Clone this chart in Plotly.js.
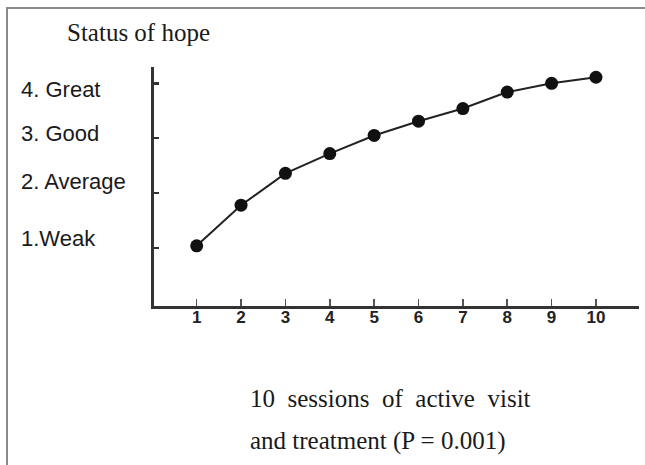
<!DOCTYPE html>
<html>
<head>
<meta charset="utf-8">
<script src="https://cdn.plot.ly/plotly-3.0.1.min.js"></script>
<style>
  html, body { margin: 0; padding: 0; background: #fff; }
  #chart { width: 645px; height: 465px; }
</style>
</head>
<body>
<div id="chart"></div>
<script>
// ---- data ----
const sessions = [1, 2, 3, 4, 5, 6, 7, 8, 9, 10];
const hopeScore = [1.04, 1.78, 2.36, 2.72, 3.05, 3.31, 3.54, 3.84, 4.00, 4.11];
const levelValues = [1, 2, 3, 4];
const levelLabels = ['1.Weak', '2. Average', '3. Good', '4. Great'];
const yTitle = 'Status of hope';
const xTitleLines = ['10\u00a0 sessions\u00a0 of\u00a0 active\u00a0 visit', 'and treatment (P = 0.001)'];

// ---- layout helpers (pixel placement of the free-floating labels) ----
const levelShift = [9.5, 12, 5, -6];   // px shifts of level labels relative to their ticks

const serif = '"Liberation Serif", "Times New Roman", serif';
const sans = '"Liberation Sans", Arial, sans-serif';

const annotations = [];
levelValues.forEach((v, i) => {
  annotations.push({
    text: levelLabels[i], xref: 'paper', yref: 'y', x: (19 - 154) / 485, y: v,
    xanchor: 'left', yanchor: 'middle', yshift: levelShift[i], showarrow: false,
    font: { family: sans, size: 22, color: '#1a1a1a' }
  });
});
annotations.push({
  text: yTitle, xref: 'paper', yref: 'paper', x: (65 - 154) / 485, y: (306 - 33) / 239,
  xanchor: 'left', yanchor: 'middle', showarrow: false,
  font: { family: serif, size: 25, color: '#1a1a1a' }
});
xTitleLines.forEach((t, i) => {
  annotations.push({
    text: t, xref: 'paper', yref: 'paper', x: (248 - 154) / 485, y: (306 - [398, 441][i]) / 239,
    xanchor: 'left', yanchor: 'middle', showarrow: false,
    font: { family: serif, size: 25, color: '#1a1a1a' }
  });
});

const trace = {
  x: sessions, y: hopeScore, type: 'scatter', mode: 'lines+markers',
  line: { color: '#222', width: 2 },
  marker: { color: '#111', size: 13 },
  cliponaxis: false, hoverinfo: 'skip'
};

const layout = {
  width: 645, height: 465,
  margin: { l: 154, r: 6, t: 67, b: 159 },
  paper_bgcolor: '#fff', plot_bgcolor: '#fff',
  showlegend: false,
  xaxis: {
    range: [0.038, 10.97], tickvals: sessions, ticktext: sessions.map(String),
    ticks: 'inside', ticklen: 7, tickwidth: 1.5, tickcolor: '#555',
    showline: true, linewidth: 3, linecolor: '#333',
    showgrid: false, zeroline: false, ticklabelstandoff: -6,
    tickfont: { family: sans, size: 17, color: '#222', weight: 'bold' }
  },
  yaxis: {
    range: [-0.056, 4.297], tickvals: levelValues, showticklabels: false,
    ticks: 'inside', ticklen: 5, tickwidth: 2.5, tickcolor: '#333',
    showline: true, linewidth: 3, linecolor: '#333',
    showgrid: false, zeroline: false
  },
  annotations: annotations,
  shapes: [
    { type: 'line', xref: 'paper', yref: 'paper', x0: (6 - 154) / 485, x1: (645 - 154) / 485,
      y0: (306 - 8) / 239, y1: (306 - 8) / 239, line: { color: '#8a8a8a', width: 2 } },
    { type: 'line', xref: 'paper', yref: 'paper', x0: (7 - 154) / 485, x1: (7 - 154) / 485,
      y0: (306 - 8) / 239, y1: (306 - 465) / 239, line: { color: '#8a8a8a', width: 2 } }
  ]
};

Plotly.newPlot('chart', [trace], layout, { staticPlot: true, displayModeBar: false });
</script>
</body>
</html>
